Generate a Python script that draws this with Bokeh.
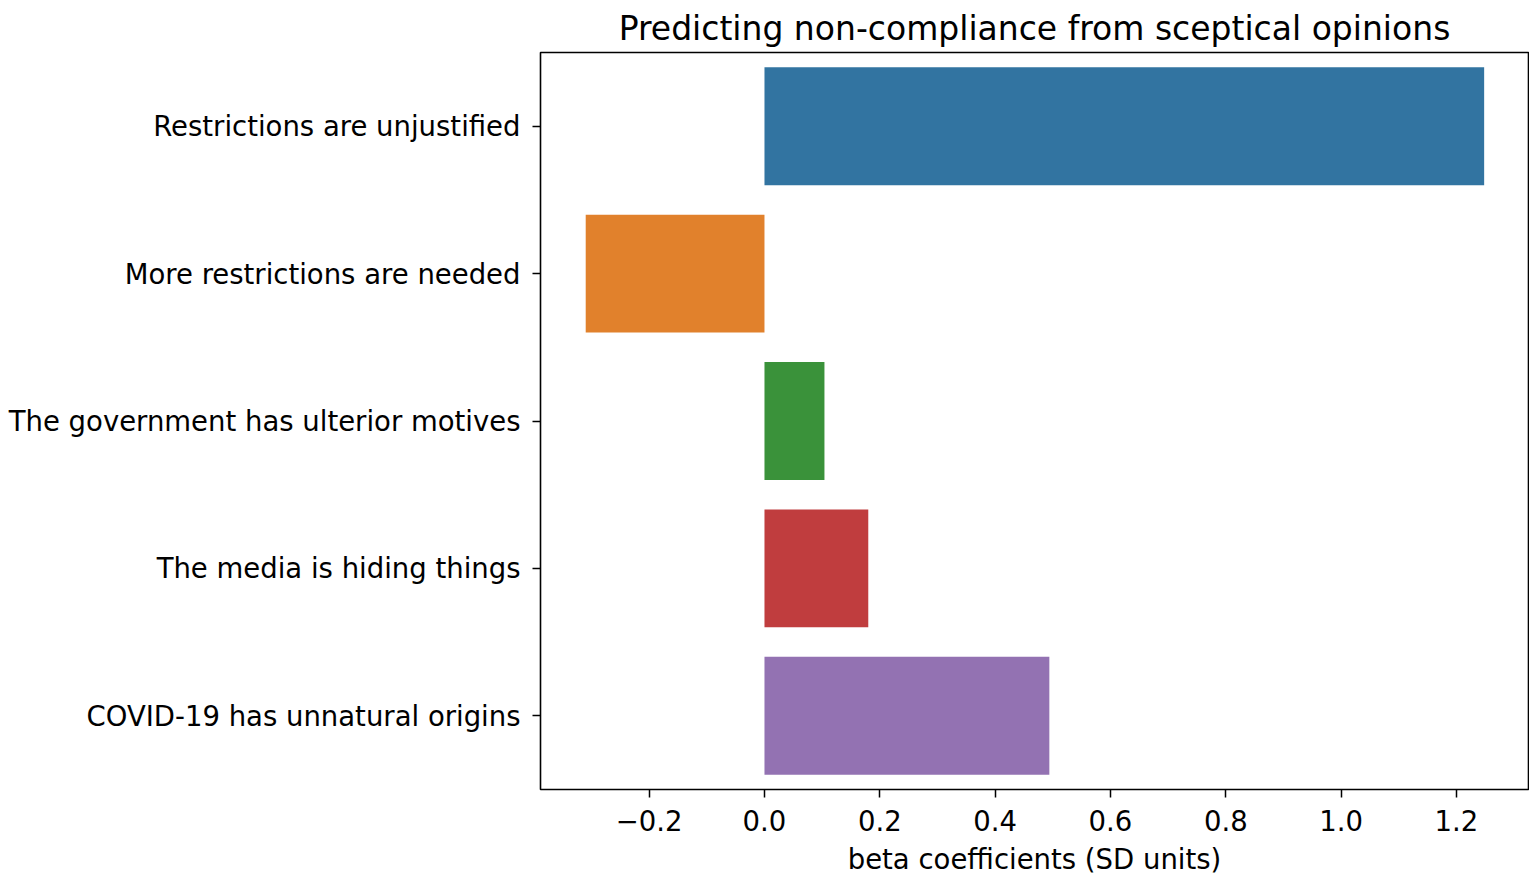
from bokeh.plotting import figure
from bokeh.models import Range1d, FactorRange
from bokeh.embed import file_html
from bokeh.resources import INLINE

categories = ["Restrictions are unjustified", "More restrictions are needed",
              "The government has ulterior motives", "The media is hiding things",
              "COVID-19 has unnatural origins"]
values = [1.248, -0.310, 0.104, 0.180, 0.494]
colors = ["#3274a1", "#e1812c", "#3a923a", "#c03d3e", "#9372b2"]
xticks = [-0.2, 0.0, 0.2, 0.4, 0.6, 0.8, 1.0, 1.2]

FONT = "DejaVu Sans"

p = figure(y_range=FactorRange(factors=list(reversed(categories)), range_padding=0),
           x_range=Range1d(-0.3884, 1.3249),
           frame_width=988, frame_height=737,
           min_border_left=540, min_border_right=1, min_border_top=52, min_border_bottom=10,
           output_backend="svg", toolbar_location=None,
           title="Predicting non-compliance from sceptical opinions")

p.hbar(y=categories, right=values, left=0, height=0.8, fill_color=colors, line_color=None)

p.title.text_font = FONT
p.title.text_font_size = "33px"
p.title.text_font_style = "normal"
p.title.align = "center"
p.title.text_color = "black"
p.title.text_line_height = 0.9
p.title.offset = 0
p.title.standoff = 9

p.xgrid.visible = False
p.ygrid.visible = False
p.outline_line_color = "black"
p.outline_line_width = 1.6

for ax in (p.xaxis[0], p.yaxis[0]):
    ax.axis_line_color = None
    ax.major_tick_line_color = "black"
    ax.major_tick_line_width = 1.5
    ax.major_tick_out = 8
    ax.major_tick_in = 0
    ax.minor_tick_line_color = None
    ax.major_label_text_font = FONT
    ax.major_label_text_font_size = "27.5px"
    ax.major_label_text_color = "black"

p.xaxis.ticker = xticks
p.xaxis.major_label_overrides = {v: ("\u2212%.1f" % -v if v < 0 else "%.1f" % v) for v in xticks}
p.xaxis.major_label_standoff = 12
p.xaxis.axis_label = "beta coefficients (SD units)"
p.xaxis.axis_label_text_font = FONT
p.xaxis.axis_label_text_font_size = "27.5px"
p.xaxis.axis_label_text_font_style = "normal"
p.xaxis.axis_label_text_color = "black"
p.xaxis.axis_label_standoff = 9

p.yaxis.major_label_standoff = 12

open("out.html", "w").write(file_html(p, INLINE))
